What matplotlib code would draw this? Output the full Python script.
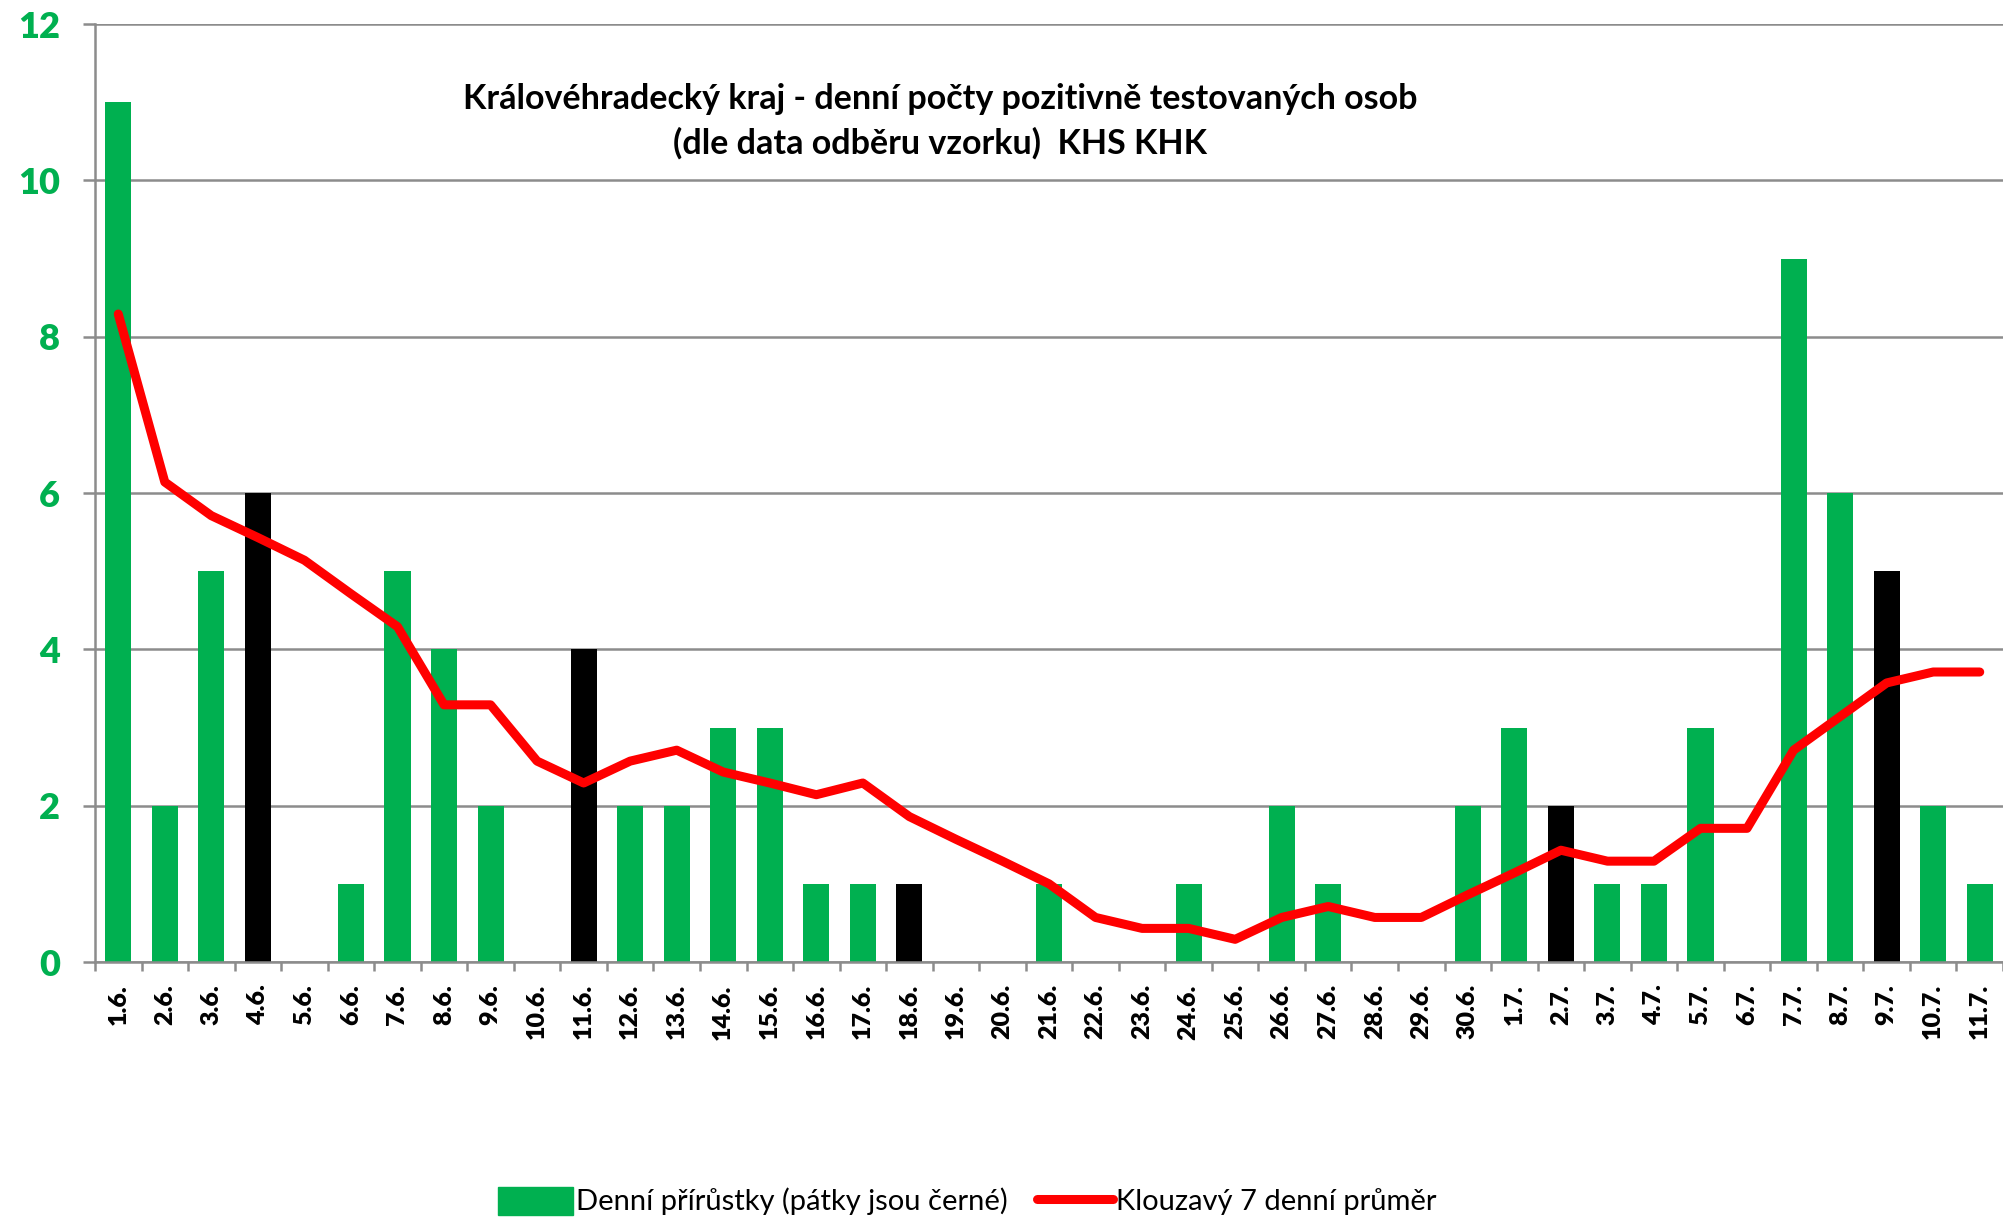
import matplotlib
matplotlib.use("Agg")
import matplotlib.pyplot as plt
from matplotlib.patches import Patch
from matplotlib.lines import Line2D

dates = ["1.6.", "2.6.", "3.6.", "4.6.", "5.6.", "6.6.", "7.6.", "8.6.", "9.6.", "10.6.",
         "11.6.", "12.6.", "13.6.", "14.6.", "15.6.", "16.6.", "17.6.", "18.6.", "19.6.", "20.6.",
         "21.6.", "22.6.", "23.6.", "24.6.", "25.6.", "26.6.", "27.6.", "28.6.", "29.6.", "30.6.",
         "1.7.", "2.7.", "3.7.", "4.7.", "5.7.", "6.7.", "7.7.", "8.7.", "9.7.", "10.7.", "11.7."]
daily = [11, 2, 5, 6, 0, 1, 5, 4, 2, 0,
         4, 2, 2, 3, 3, 1, 1, 1, 0, 0,
         1, 0, 0, 1, 0, 2, 1, 0, 0, 2,
         3, 2, 1, 1, 3, 0, 9, 6, 5, 2, 1]
fridays = ["4.6.", "11.6.", "18.6.", "25.6.", "2.7.", "9.7."]
avg7 = [8.29, 6.14, 5.71, 5.43, 5.14, 4.71, 4.29, 3.29, 3.29, 2.57,
        2.29, 2.57, 2.71, 2.43, 2.29, 2.14, 2.29, 1.86, 1.57, 1.29,
        1.00, 0.57, 0.43, 0.43, 0.29, 0.57, 0.71, 0.57, 0.57, 0.86,
        1.14, 1.43, 1.29, 1.29, 1.71, 1.71, 2.71, 3.14, 3.57, 3.71, 3.71]
yticks = [0, 2, 4, 6, 8, 10, 12]

title = "Královéhradecký kraj - denní počty pozitivně testovaných osob\n(dle data odběru vzorku)  KHS KHK"
bar_label = "Denní přírůstky (pátky jsou černé)"
line_label = "Klouzavý 7 denní průměr"

GREEN = "#00B050"
RED = "#FF0000"
GRID = "#8C8C8C"

plt.rcParams['font.family'] = ['Lato', 'DejaVu Sans']

fig = plt.figure(figsize=(20.03, 12.19), dpi=100)
ax = fig.add_axes([95/2003, 1-962/1219, 1-95/2003, (962-24)/1219])

x = list(range(len(dates)))
colors = ["#000000" if d in fridays else GREEN for d in dates]
ax.bar(x, daily, width=0.56, color=colors, zorder=2)
ax.plot(x, avg7, color=RED, lw=6.5, solid_capstyle='round', solid_joinstyle='round', zorder=3)

ax.set_xlim(-0.5, len(dates) - 1 + 0.3)
ax.set_ylim(0, 12)
ax.set_yticks(yticks)
ax.set_yticklabels([str(v) for v in yticks], color=GREEN, fontweight='heavy', fontsize=26)
ax.set_xticks(x)
ax.set_xticklabels(dates, rotation=90, fontweight='heavy', fontsize=18)
ax.set_xticks([i + 0.5 for i in range(-1, len(dates))], minor=True)

ax.yaxis.grid(True, color=GRID, lw=1.8)
ax.set_axisbelow(True)
for s in ['top', 'right']:
    ax.spines[s].set_visible(False)
for s in ['left', 'bottom']:
    ax.spines[s].set_color(GRID)
    ax.spines[s].set_linewidth(1.8)

ax.tick_params(axis='y', length=9, width=1.8, color=GRID, pad=16)
ax.tick_params(axis='x', which='major', length=0, pad=16)
ax.tick_params(axis='x', which='minor', length=6.5, width=1.8, color=GRID)

fig.text(940/2003, 1-121/1219, title, ha='center', va='center', fontsize=24.5,
         fontweight='bold', linespacing=1.45)

handles = [Patch(facecolor=GREEN, edgecolor=GREEN, label=bar_label),
           Line2D([0], [0], color=RED, lw=6.5, solid_capstyle='round', label=line_label)]
fig.legend(handles=handles, loc='center', bbox_to_anchor=(967/2003, 1-1201/1219), ncol=2,
           frameon=False, fontsize=21, handlelength=2.6, handleheight=1.1,
           handletextpad=0.1, columnspacing=1.0)

fig.savefig("out.png", dpi=100)
